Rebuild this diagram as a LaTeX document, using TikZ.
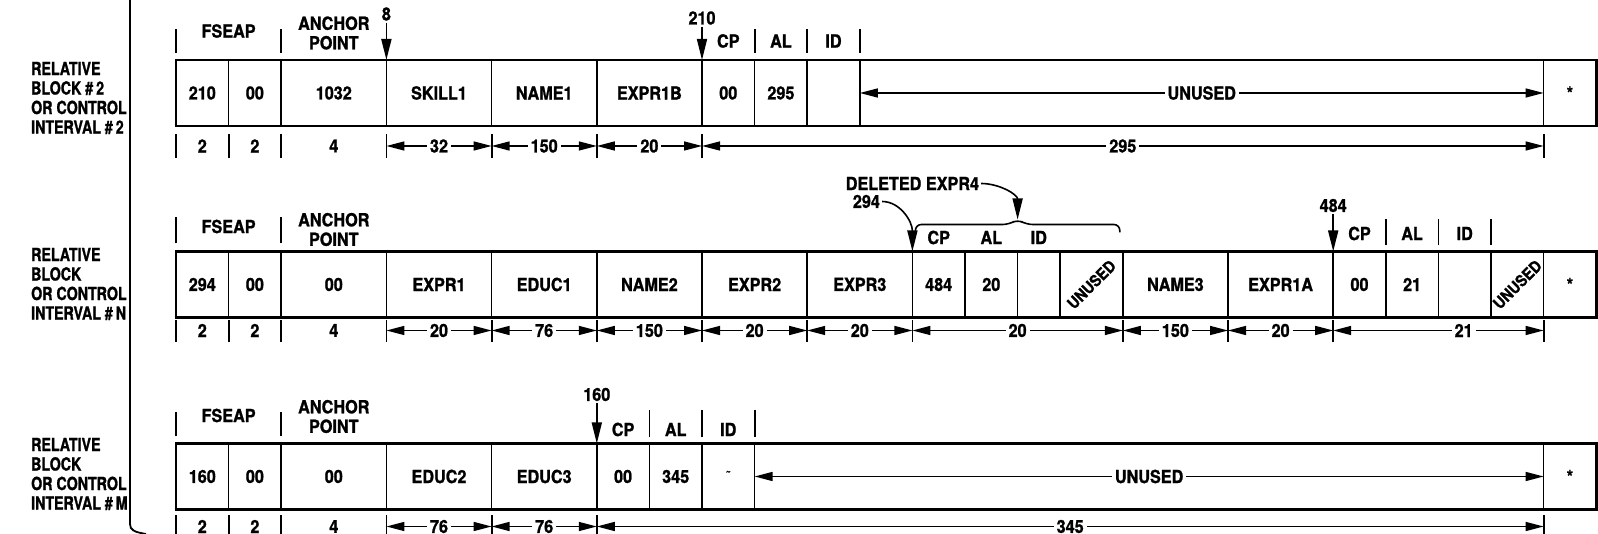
\documentclass[tikz,border=0pt]{standalone}
\usepackage{fontspec}
\newfontfamily\blockfont[FakeStretch=0.9, BoldFeatures={FakeBold=1.2}]{TeX Gyre Heros}
\newfontfamily\sidefont[FakeStretch=0.79, BoldFeatures={FakeBold=1.2}]{TeX Gyre Heros}
\usetikzlibrary{arrows.meta, positioning, calc}
\tikzstyle{cell} = [rectangle, draw=black, line width=1.7pt, minimum height=66pt, inner sep=0pt, outer sep=0pt, align=center]
\tikzstyle{narrow} = [minimum width=52.6pt]
\tikzstyle{wide} = [minimum width=105.2pt]
\tikzstyle{blockframe} = [draw=black, line width=2.8pt]
\tikzstyle{lbl} = [inner sep=2pt, align=center]
\tikzstyle{sidelbl} = [inner sep=0pt, anchor=west, align=left, font=\sidefont\bfseries\fontsize{18}{19.5}\selectfont]
\tikzstyle{slanted} = [inner sep=0pt, rotate=45, font=\blockfont\bfseries\fontsize{16}{16}\selectfont]
\tikzstyle{sepline} = [line width=1.8pt]
\tikzstyle{dimarrow} = [line width=1.4pt, {Triangle[length=18pt,width=9pt]}-{Triangle[length=18pt,width=9pt]}]
\tikzstyle{pointer} = [line width=1.6pt, -{Triangle[length=21pt,width=10pt]}]
\tikzstyle{dimtext} = [fill=white, inner sep=3pt]

\begin{document}
\begin{tikzpicture}[x=1pt, y=1pt, every node/.style={font=\blockfont\bfseries\fontsize{18}{19.5}\selectfont}]
      \useasboundingbox (0,0) rectangle (1598,534);

      % Klammer links
      \draw[line width=1.8pt] (130,534) -- (130,10) .. controls (130,4) and (134,2) .. (146,0);

      % Block #2
      \node[sidelbl] (rb2) at (31,436) {RELATIVE\\BLOCK \#\,2\\OR CONTROL\\INTERVAL \#\,2};
      \node[cell, narrow, anchor=west] (free2) at (176,441) {210};
      \node[cell, narrow, right=0pt of free2] (zero2) {00};
      \node[cell, wide, right=0pt of zero2] (anch2) {1032};
      \node[cell, wide, right=0pt of anch2] (skill1) {SKILL1};
      \node[cell, wide, right=0pt of skill1] (name1) {NAME1};
      \node[cell, wide, right=0pt of name1] (expr1b) {EXPR1B};
      \node[cell, narrow, right=0pt of expr1b] (cp2) {00};
      \node[cell, narrow, right=0pt of cp2] (al2) {295};
      \node[cell, narrow, right=0pt of al2] (id2) {};
      \node[cell, minimum width=683.8pt, right=0pt of id2] (unused2) {};
      \node[cell, narrow, right=0pt of unused2] (end2) {*};
      \draw[blockframe] (free2.north west) rectangle (end2.south east);
      \draw[dimarrow] (id2.east) -- node[dimtext] (ulbl2) {UNUSED} (unused2.east);

      \node[lbl] (fseap2) at ($(free2.north east)+(0,29)$) {FSEAP};
      \node[lbl] (anchor2) at ($(anch2.north)+(0,27)$) {ANCHOR\\POINT};
      \draw[sepline] ([yshift=7pt]free2.north west) -- ([yshift=31pt]free2.north west);
      \draw[sepline] ([yshift=7pt]anch2.north west) -- ([yshift=31pt]anch2.north west);
      \node[lbl] (ptr8) at ($(skill1.north west)+(0,46)$) {8};
      \draw[pointer] (ptr8) -- (skill1.north west);
      \node[lbl] (ptr210) at ($(cp2.north west)+(0,42)$) {210};
      \draw[pointer] (ptr210) -- (cp2.north west);
      \node[lbl] (cphd2) at ($(cp2.north)+(0,19)$) {CP};
      \node[lbl] (alhd2) at ($(al2.north)+(0,19)$) {AL};
      \node[lbl] (idhd2) at ($(id2.north)+(0,19)$) {ID};
      \draw[sepline] ([yshift=7pt]cp2.north east) -- ([yshift=31pt]cp2.north east);
      \draw[sepline] ([yshift=7pt]al2.north east) -- ([yshift=31pt]al2.north east);
      \draw[sepline] ([yshift=7pt]id2.north east) -- ([yshift=31pt]id2.north east);

      \node[lbl] (sz2a) at ($(free2.south)+(0,-20)$) {2};
      \node[lbl] (sz2b) at ($(zero2.south)+(0,-20)$) {2};
      \node[lbl] (sz2c) at ($(anch2.south)+(0,-20)$) {4};
      \draw[sepline] ([yshift=-8pt]free2.south west) -- ([yshift=-32pt]free2.south west);
      \draw[sepline] ([yshift=-8pt]zero2.south west) -- ([yshift=-32pt]zero2.south west);
      \draw[sepline] ([yshift=-8pt]anch2.south west) -- ([yshift=-32pt]anch2.south west);
      \draw[sepline] ([yshift=-8pt]skill1.south west) -- ([yshift=-32pt]skill1.south west);
      \draw[sepline] ([yshift=-8pt]name1.south west) -- ([yshift=-32pt]name1.south west);
      \draw[sepline] ([yshift=-8pt]expr1b.south west) -- ([yshift=-32pt]expr1b.south west);
      \draw[sepline] ([yshift=-8pt]cp2.south west) -- ([yshift=-32pt]cp2.south west);
      \draw[sepline] ([yshift=-8pt]end2.south west) -- ([yshift=-32pt]end2.south west);
      \draw[dimarrow] ([yshift=-20pt]skill1.south west) -- node[dimtext]{32} ([yshift=-20pt]skill1.south east);
      \draw[dimarrow] ([yshift=-20pt]name1.south west) -- node[dimtext]{150} ([yshift=-20pt]name1.south east);
      \draw[dimarrow] ([yshift=-20pt]expr1b.south west) -- node[dimtext]{20} ([yshift=-20pt]expr1b.south east);
      \draw[dimarrow] ([yshift=-20pt]cp2.south west) -- node[dimtext]{295} ([yshift=-20pt]unused2.south east);

      % Block #N
      \node[sidelbl] (rbn) at (31,250) {RELATIVE\\BLOCK\\OR CONTROL\\INTERVAL \#\,N};
      \node[cell, narrow, anchor=west] (freeN) at (176,249.5) {294};
      \node[cell, narrow, right=0pt of freeN] (zeroN) {00};
      \node[cell, wide, right=0pt of zeroN] (anchN) {00};
      \node[cell, wide, right=0pt of anchN] (expr1) {EXPR1};
      \node[cell, wide, right=0pt of expr1] (educ1) {EDUC1};
      \node[cell, wide, right=0pt of educ1] (name2) {NAME2};
      \node[cell, wide, right=0pt of name2] (expr2) {EXPR2};
      \node[cell, wide, right=0pt of expr2] (expr3) {EXPR3};
      \node[cell, narrow, right=0pt of expr3] (cpN) {484};
      \node[cell, narrow, right=0pt of cpN] (alN) {20};
      \node[cell, minimum width=42.4pt, right=0pt of alN] (idN) {};
      \node[cell, minimum width=62.8pt, right=0pt of idN] (gapN) {};
      \node[cell, wide, right=0pt of gapN] (name3) {NAME3};
      \node[cell, wide, right=0pt of name3] (expr1a) {EXPR1A};
      \node[cell, narrow, right=0pt of expr1a] (cpN2) {00};
      \node[cell, narrow, right=0pt of cpN2] (alN2) {21};
      \node[cell, narrow, right=0pt of alN2] (idN2) {};
      \node[cell, narrow, right=0pt of idN2] (gapN2) {};
      \node[cell, narrow, right=0pt of gapN2] (endN) {*};
      \draw[blockframe] (freeN.north west) rectangle (endN.south east);
      \node[slanted] (gapNtxt) at (gapN) {UNUSED};
      \node[slanted] (gapN2txt) at (gapN2) {UNUSED};

      \node[lbl] (fseapN) at ($(freeN.north east)+(0,25)$) {FSEAP};
      \node[lbl] (anchorN) at ($(anchN.north)+(0,22)$) {ANCHOR\\POINT};
      \draw[sepline] ([yshift=8pt]freeN.north west) -- ([yshift=34pt]freeN.north west);
      \draw[sepline] ([yshift=8pt]anchN.north west) -- ([yshift=34pt]anchN.north west);
      \node[lbl] (del4) at ($(cpN.north west)+(0,68)$) {DELETED EXPR4};
      \node[lbl] (ptr294) at ($(cpN.north west)+(-46,50)$) {294};
      \coordinate (peakN) at ($(alN.north east)+(0,32)$);
      \draw[line width=1.6pt, rounded corners=6pt] ($(cpN.north west)+(3,19)$) -- ($(cpN.north west)+(3,27)$) -- ($(peakN)+(-9,-5)$) -- (peakN) -- ($(peakN)+(9,-5)$) -- ($(gapN.north east)+(-3,27)$) -- ($(gapN.north east)+(-3,19)$);
      \draw[pointer] (ptr294.east) .. controls +(18,0) and +(0,30) .. (cpN.north west);
      \draw[pointer] (del4.east) .. controls +(18,0) and +(0,25) .. (peakN);
      \node[lbl] (cphdN) at ($(cpN.north)+(0,14)$) {CP};
      \node[lbl] (alhdN) at ($(alN.north)+(0,14)$) {AL};
      \node[lbl] (idhdN) at ($(idN.north)+(0,14)$) {ID};
      \node[lbl] (ptr484) at ($(cpN2.north west)+(0,46)$) {484};
      \draw[pointer] (ptr484) -- (cpN2.north west);
      \node[lbl] (cphdN2) at ($(cpN2.north)+(0,18)$) {CP};
      \node[lbl] (alhdN2) at ($(alN2.north)+(0,18)$) {AL};
      \node[lbl] (idhdN2) at ($(idN2.north)+(0,18)$) {ID};
      \draw[sepline] ([yshift=6pt]cpN2.north east) -- ([yshift=32pt]cpN2.north east);
      \draw[sepline] ([yshift=6pt]alN2.north east) -- ([yshift=32pt]alN2.north east);
      \draw[sepline] ([yshift=6pt]idN2.north east) -- ([yshift=32pt]idN2.north east);

      \node[lbl] (szNa) at ($(freeN.south)+(0,-13)$) {2};
      \node[lbl] (szNb) at ($(zeroN.south)+(0,-13)$) {2};
      \node[lbl] (szNc) at ($(anchN.south)+(0,-13)$) {4};
      \draw[sepline] ([yshift=-3pt]freeN.south west) -- ([yshift=-25pt]freeN.south west);
      \draw[sepline] ([yshift=-3pt]zeroN.south west) -- ([yshift=-25pt]zeroN.south west);
      \draw[sepline] ([yshift=-3pt]anchN.south west) -- ([yshift=-25pt]anchN.south west);
      \draw[sepline] ([yshift=-3pt]expr1.south west) -- ([yshift=-25pt]expr1.south west);
      \draw[sepline] ([yshift=-3pt]educ1.south west) -- ([yshift=-25pt]educ1.south west);
      \draw[sepline] ([yshift=-3pt]name2.south west) -- ([yshift=-25pt]name2.south west);
      \draw[sepline] ([yshift=-3pt]expr2.south west) -- ([yshift=-25pt]expr2.south west);
      \draw[sepline] ([yshift=-3pt]expr3.south west) -- ([yshift=-25pt]expr3.south west);
      \draw[sepline] ([yshift=-3pt]cpN.south west) -- ([yshift=-25pt]cpN.south west);
      \draw[sepline] ([yshift=-3pt]name3.south west) -- ([yshift=-25pt]name3.south west);
      \draw[sepline] ([yshift=-3pt]expr1a.south west) -- ([yshift=-25pt]expr1a.south west);
      \draw[sepline] ([yshift=-3pt]cpN2.south west) -- ([yshift=-25pt]cpN2.south west);
      \draw[sepline] ([yshift=-3pt]endN.south west) -- ([yshift=-25pt]endN.south west);
      \draw[dimarrow] ([yshift=-13pt]expr1.south west) -- node[dimtext]{20} ([yshift=-13pt]expr1.south east);
      \draw[dimarrow] ([yshift=-13pt]educ1.south west) -- node[dimtext]{76} ([yshift=-13pt]educ1.south east);
      \draw[dimarrow] ([yshift=-13pt]name2.south west) -- node[dimtext]{150} ([yshift=-13pt]name2.south east);
      \draw[dimarrow] ([yshift=-13pt]expr2.south west) -- node[dimtext]{20} ([yshift=-13pt]expr2.south east);
      \draw[dimarrow] ([yshift=-13pt]expr3.south west) -- node[dimtext]{20} ([yshift=-13pt]expr3.south east);
      \draw[dimarrow] ([yshift=-13pt]cpN.south west) -- node[dimtext]{20} ([yshift=-13pt]gapN.south east);
      \draw[dimarrow] ([yshift=-13pt]name3.south west) -- node[dimtext]{150} ([yshift=-13pt]name3.south east);
      \draw[dimarrow] ([yshift=-13pt]expr1a.south west) -- node[dimtext]{20} ([yshift=-13pt]expr1a.south east);
      \draw[dimarrow] ([yshift=-13pt]cpN2.south west) -- node[dimtext, pos=0.62]{21} ([yshift=-13pt]gapN2.south east);

      % Block #M
      \node[sidelbl] (rbm) at (31,60) {RELATIVE\\BLOCK\\OR CONTROL\\INTERVAL \#\,M};
      \node[cell, narrow, anchor=west] (freeM) at (176,57.5) {160};
      \node[cell, narrow, right=0pt of freeM] (zeroM) {00};
      \node[cell, wide, right=0pt of zeroM] (anchM) {00};
      \node[cell, wide, right=0pt of anchM] (educ2) {EDUC2};
      \node[cell, wide, right=0pt of educ2] (educ3) {EDUC3};
      \node[cell, narrow, right=0pt of educ3] (cpM) {00};
      \node[cell, narrow, right=0pt of cpM] (alM) {345};
      \node[cell, narrow, right=0pt of alM] (idM) {\raisebox{8pt}{\fontsize{10}{10}\selectfont\textasciitilde}};
      \node[cell, minimum width=789pt, right=0pt of idM] (unusedM) {};
      \node[cell, narrow, right=0pt of unusedM] (endM) {*};
      \draw[blockframe] (freeM.north west) rectangle (endM.south east);
      \draw[dimarrow] (idM.east) -- node[dimtext] (ulblM) {UNUSED} (unusedM.east);

      \node[lbl] (fseapM) at ($(freeM.north east)+(0,28)$) {FSEAP};
      \node[lbl] (anchorM) at ($(anchM.north)+(0,27)$) {ANCHOR\\POINT};
      \draw[sepline] ([yshift=7pt]freeM.north west) -- ([yshift=31pt]freeM.north west);
      \draw[sepline] ([yshift=7pt]anchM.north west) -- ([yshift=31pt]anchM.north west);
      \node[lbl] (ptr160) at ($(cpM.north west)+(0,49)$) {160};
      \draw[pointer] (ptr160) -- (cpM.north west);
      \node[lbl] (cphdM) at ($(cpM.north)+(0,14)$) {CP};
      \node[lbl] (alhdM) at ($(alM.north)+(0,14)$) {AL};
      \node[lbl] (idhdM) at ($(idM.north)+(0,14)$) {ID};
      \draw[sepline] ([yshift=6pt]cpM.north east) -- ([yshift=33pt]cpM.north east);
      \draw[sepline] ([yshift=6pt]alM.north east) -- ([yshift=33pt]alM.north east);
      \draw[sepline] ([yshift=6pt]idM.north east) -- ([yshift=33pt]idM.north east);

      \node[lbl] (szMa) at ($(freeM.south)+(0,-17)$) {2};
      \node[lbl] (szMb) at ($(zeroM.south)+(0,-17)$) {2};
      \node[lbl] (szMc) at ($(anchM.south)+(0,-17)$) {4};
      \draw[sepline] ([yshift=-6pt]freeM.south west) -- ([yshift=-30pt]freeM.south west);
      \draw[sepline] ([yshift=-6pt]zeroM.south west) -- ([yshift=-30pt]zeroM.south west);
      \draw[sepline] ([yshift=-6pt]anchM.south west) -- ([yshift=-30pt]anchM.south west);
      \draw[sepline] ([yshift=-6pt]educ2.south west) -- ([yshift=-30pt]educ2.south west);
      \draw[sepline] ([yshift=-6pt]educ3.south west) -- ([yshift=-30pt]educ3.south west);
      \draw[sepline] ([yshift=-6pt]cpM.south west) -- ([yshift=-30pt]cpM.south west);
      \draw[sepline] ([yshift=-6pt]endM.south west) -- ([yshift=-30pt]endM.south west);
      \draw[dimarrow] ([yshift=-17pt]educ2.south west) -- node[dimtext]{76} ([yshift=-17pt]educ2.south east);
      \draw[dimarrow] ([yshift=-17pt]educ3.south west) -- node[dimtext]{76} ([yshift=-17pt]educ3.south east);
      \draw[dimarrow] ([yshift=-17pt]cpM.south west) -- node[dimtext]{345} ([yshift=-17pt]unusedM.south east);
    \end{tikzpicture}
\end{document}
